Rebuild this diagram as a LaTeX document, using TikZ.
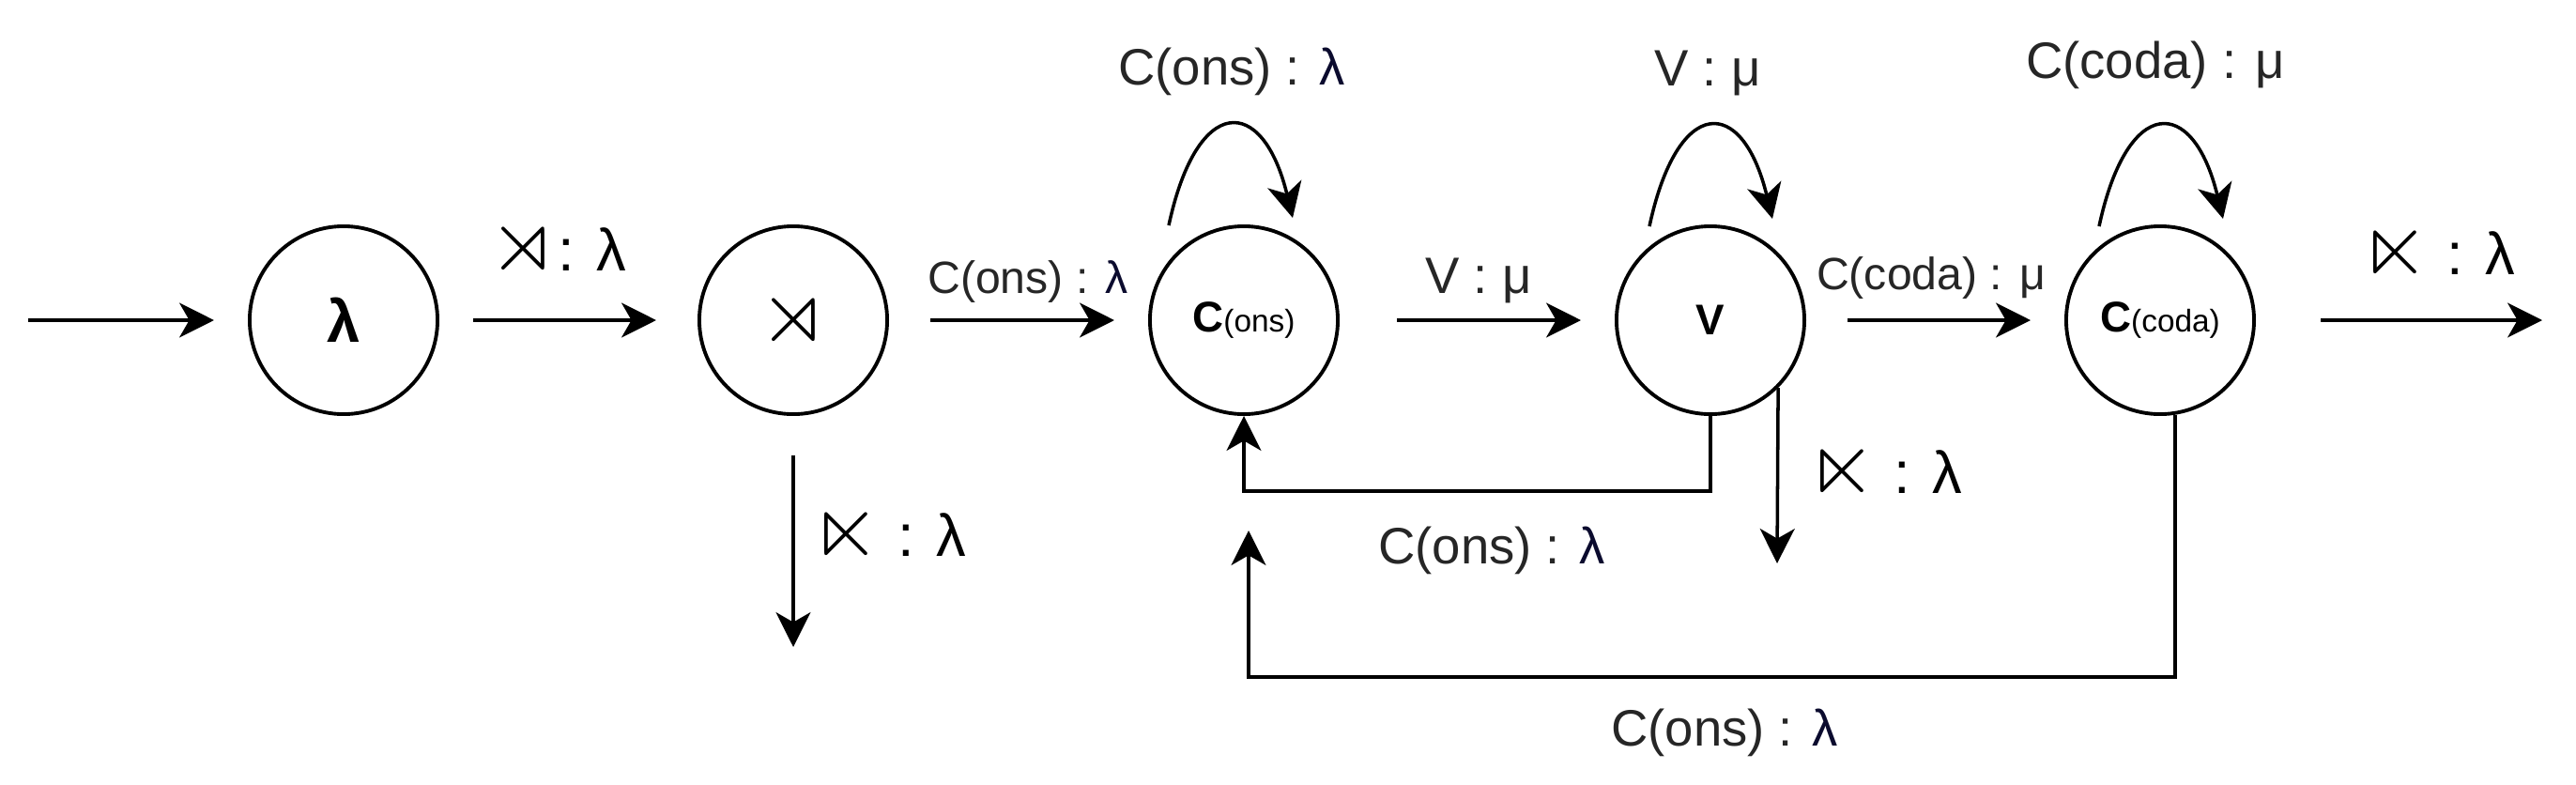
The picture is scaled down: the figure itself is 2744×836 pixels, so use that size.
\documentclass[tikz,border=0pt]{standalone}
\usepackage{amssymb}
\usepackage{fontspec}
\setmainfont{Liberation Sans}
\usetikzlibrary{arrows.meta}
\definecolor{txtgray}{HTML}{262626}
\definecolor{lamblue}{HTML}{0B0B2E}
\newcommand{\lmb}{\textcolor{lamblue}{λ}}
\newcommand{\lsemi}{{\fontsize{27}{30}\selectfont$\ltimes$}}
\newcommand{\rsemi}{{\fontsize{27}{30}\selectfont$\rtimes$}}

\begin{document}
\begin{tikzpicture}[
    x=0.01cm, y=-0.01cm,
    state/.style={circle, draw, line width=1.1pt, minimum size=2cm, inner sep=0, font=\fontsize{13}{15}\selectfont},
    lbl/.style={anchor=base, inner sep=0, text=txtgray, font=\fontsize{15.5}{18}\selectfont},
    lblsmall/.style={lbl, font=\fontsize{13.7}{16}\selectfont},
    lblbig/.style={anchor=base, inner sep=0, font=\fontsize{18}{21}\selectfont},
    arrow/.style={line width=1pt, >={Stealth[length=10.5pt,width=10.5pt,inset=3pt]}},
    post/.style={arrow, ->},
    gapped/.style={shorten <=0.44cm, shorten >=0.36cm}
  ]
  \useasboundingbox (0,0) rectangle (2744,836);
  % states
  \node[state] (lam) at (366,341) {\fontsize{18}{21}\selectfont\bfseries λ};
  \node[state] (semi) at (845,341) {\rsemi}
    edge [post,gapped,<-] (lam);
  \node[state] (cons) at (1325,341) {\textbf{C}\fontsize{9.5}{11}\selectfont(ons)};
  \node[state] (V) at (1822,341) {\textbf{V}};
  \node[state] (coda) at (2301,341) {\textbf{C}\fontsize{9.5}{11}\selectfont(coda)};

  % chain
  \coordinate (in) at (30,341);
  \coordinate (out) at (2708,341);
  \draw[post, shorten >=0.36cm] (in) -- (lam);
  \draw[post, gapped] (semi) -- (cons);
  \draw[post, gapped, shorten <=0.61cm] (cons) -- (V);
  \draw[post, gapped] (V) -- (coda);
  \draw[post, shorten <=0.69cm] (coda) -- (out);

  % exits
  \coordinate (semiout) at (845,689);
  \coordinate (Vout) at (1893,600);
  \draw[post, shorten <=0.42cm] (semi) -- (semiout);
  \draw[post] (V.-45) -- (Vout);

  % back to onset
  \coordinate (fbend) at (1330,565);
  \draw[post] (V.south) -- ++(0,80) -| (cons.south);
  \draw[post] (coda.-81) -- ++(0,279) -| (fbend);

  % loops
  \draw[post] ([shift={(-80,-101)}]cons.center) .. controls +(30,-140) and +(-32,-132) .. ([shift={(52,-109)}]cons.center);
  \draw[post] ([shift={(-65,-100)}]V.center) .. controls +(30,-140) and +(-32,-132) .. ([shift={(66,-108)}]V.center);
  \draw[post] ([shift={(-65,-100)}]coda.center) .. controls +(30,-140) and +(-32,-132) .. ([shift={(67,-108)}]coda.center);

  % labels
  \node[lblbig] (l1) at (594,288) {\rsemi: λ};
  \node[lblbig] (l2) at (947,592) {\lsemi{} : λ};
  \node[lblbig] (l3) at (2008,525) {\lsemi{} : λ};
  \node[lblbig] (l4) at (2597,292) {\lsemi{} : λ};
  \node[lblsmall] (l5) at (1095,312) {C(ons) : \lmb};
  \node[lbl] (l6) at (1575,312) {V : μ};
  \node[lblsmall] (l7) at (2057,308) {C(coda) : μ};
  \node[lbl] (l8) at (1312,90) {C(ons) : \lmb};
  \node[lbl] (l9) at (1819,91) {V : μ};
  \node[lbl] (l10) at (2296,83) {C(coda) : μ};
  \node[lbl] (l11) at (1589,600) {C(ons) : \lmb};
  \node[lbl] (l12) at (1837,794) {C(ons) : \lmb};
\end{tikzpicture}
\end{document}
